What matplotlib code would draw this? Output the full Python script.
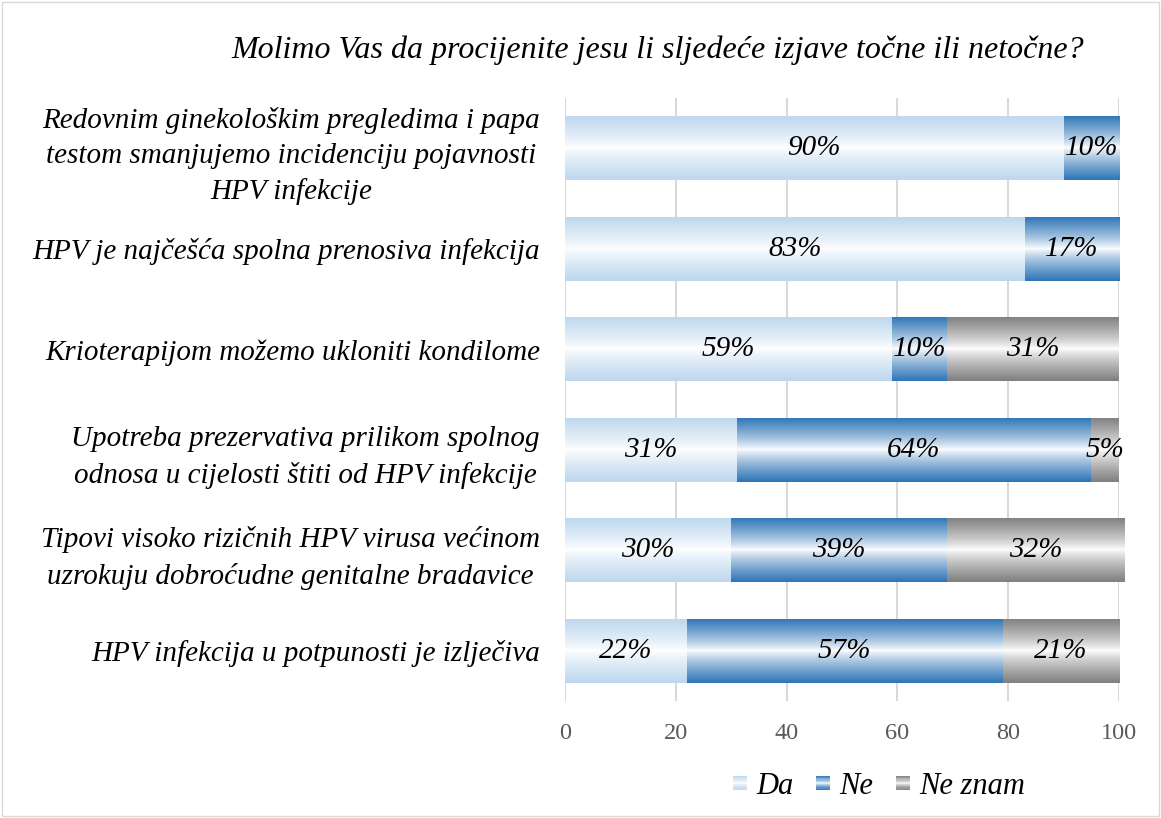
import numpy as np
import matplotlib
matplotlib.use('Agg')
import matplotlib.pyplot as plt
from matplotlib.colors import LinearSegmentedColormap
from matplotlib.patches import Rectangle
from matplotlib.legend_handler import HandlerBase

plt.rcParams['font.family'] = ['Liberation Serif', 'DejaVu Serif']

# data
statements = [
    "Redovnim ginekološkim pregledima i papa\ntestom smanjujemo incidenciju pojavnosti\nHPV infekcije",
    "HPV je najčešća spolna prenosiva infekcija",
    "Krioterapijom možemo ukloniti kondilome",
    "Upotreba prezervativa prilikom spolnog\nodnosa u cijelosti štiti od HPV infekcije",
    "Tipovi visoko rizičnih HPV virusa većinom\nuzrokuju dobroćudne genitalne bradavice",
    "HPV infekcija u potpunosti je izlječiva",
]
da = [90, 83, 59, 31, 30, 22]
ne = [10, 17, 10, 64, 39, 57]
ne_znam = [0, 0, 31, 5, 32, 21]
series_names = ["Da", "Ne", "Ne znam"]
xticks = [0, 20, 40, 60, 80, 100]

edge_colors = ['#BDD7EE', '#2E75B6', '#7F7F7F']

fig = plt.figure(figsize=(11.61, 8.18), dpi=100)
ax = fig.add_axes([565 / 1161, 1 - 701 / 818, (1119 - 565) / 1161, (701 - 98) / 818])

y = np.arange(len(statements))
left = np.zeros(len(statements))
grad = np.abs(np.linspace(-1, 1, 256)) ** 0.8
grad = grad.reshape(-1, 1)

handles = []
for vals, name, col in zip([da, ne, ne_znam], series_names, edge_colors):
    cmap = LinearSegmentedColormap.from_list(name, ['white', col])
    bars = ax.barh(y, vals, left=left, height=0.64, color='none', edgecolor='none', label=name)
    for bar, v in zip(bars, vals):
        if v == 0:
            continue
        x0, y0 = bar.get_x(), bar.get_y()
        w, h = bar.get_width(), bar.get_height()
        im = ax.imshow(grad, cmap=cmap, vmin=0, vmax=1, aspect='auto',
                       extent=(x0, x0 + w, y0, y0 + h), zorder=2, interpolation='bilinear')
        im.set_clip_path(bar)
        ax.text(x0 + w / 2, y0 + h / 2, f"{v}%", ha='center', va='center',
                fontsize=21, fontstyle='italic', color='black', zorder=3)
    handles.append(Rectangle((0, 0), 1, 1, facecolor=col, edgecolor='none'))
    left = left + np.array(vals)

ax.set_xlim(0, 100)
ax.set_ylim(len(statements) - 0.5, -0.5)
ax.set_xticks(xticks)
ax.set_yticks(y)
ax.set_yticklabels(statements, fontsize=21, fontstyle='italic', multialignment='center',
                   linespacing=1.45)
ax.tick_params(axis='y', length=0, pad=18)
ax.tick_params(axis='x', length=0, pad=16, labelsize=17.5, labelcolor='#595959')
ax.grid(axis='x', color='#D9D9D9', linewidth=1.5, zorder=0)
ax.set_axisbelow(True)
for s in ['top', 'right', 'bottom', 'left']:
    ax.spines[s].set_visible(False)

fig.text(658 / 1161, 1 - 50 / 818, "Molimo Vas da procijenite jesu li sljedeće izjave točne ili netočne?",
         ha='center', va='center', fontsize=23, fontstyle='italic')


class GradHandler(HandlerBase):
    # legend swatch with the same vertical gradient as the bars
    def create_artists(self, legend, orig_handle, xd, yd, width, height, fontsize, trans):
        col = orig_handle.get_facecolor()
        cmap = LinearSegmentedColormap.from_list('g', ['white', col])
        arts = []
        n = 12
        s = width
        y0 = yd + (height - s) / 2
        for i in range(n):
            t = abs((i + 0.5) / n * 2 - 1) ** 0.8
            r = Rectangle((xd, y0 + i * s / n), s, s / n + 0.1,
                          facecolor=cmap(t), edgecolor='none', transform=trans)
            arts.append(r)
        return arts


fig.legend(handles, series_names, loc='center', bbox_to_anchor=(879 / 1161, 1 - 786 / 818),
           ncol=3, frameon=False, prop={'size': 22, 'style': 'italic'},
           handler_map={Rectangle: GradHandler()}, handlelength=0.45, handletextpad=0.3,
           columnspacing=0.75)

fig.patches.append(Rectangle((0.002, 0.003), 0.996, 0.995, transform=fig.transFigure,
                             fill=False, edgecolor='#D9D9D9', linewidth=1))

fig.savefig('out.png', dpi=100)
